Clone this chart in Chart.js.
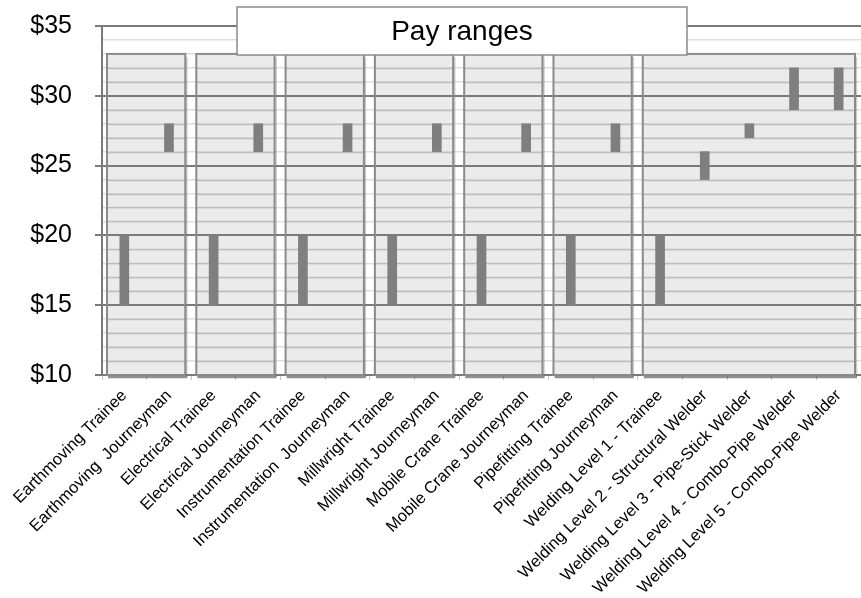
<!DOCTYPE html>
<html>
<head>
<meta charset="utf-8">
<title>Pay ranges</title>
<script src="https://cdn.jsdelivr.net/npm/chart.js@4.4.1/dist/chart.umd.min.js"></script>
<style>
  html, body { margin: 0; padding: 0; background: #fff; }
  #wrap { width: 861px; height: 598px; }
</style>
</head>
<body>
<div id="wrap"><canvas id="payCanvas" width="861" height="598"></canvas></div>
<script>
var categories = [
    'Earthmoving Trainee', 'Earthmoving  Journeyman',
    'Electrical Trainee', 'Electrical Journeyman',
    'Instrumentation Trainee', 'Instrumentation  Journeyman',
    'Millwright Trainee', 'Millwright Journeyman',
    'Mobile Crane Trainee', 'Mobile Crane Journeyman',
    'Pipefitting Trainee', 'Pipefitting Journeyman',
    'Welding Level 1 - Trainee', 'Welding Level 2 - Structural Welder',
    'Welding Level 3 - Pipe-Stick Welder', 'Welding Level 4 - Combo-Pipe Welder',
    'Welding Level 5 - Combo-Pipe Welder'
];
var payLow  = [15, 26, 15, 26, 15, 26, 15, 26, 15, 26, 15, 26, 15, 24, 27, 29, 29];
var payHigh = [20, 28, 20, 28, 20, 28, 20, 28, 20, 28, 20, 28, 20, 26, 28, 32, 32];
var yMin = 10;
var yMax = 35;
var yLabelStep = 5;
// shaded panels: first and last category index of each group
var panelGroups = [[0, 1], [2, 3], [4, 5], [6, 7], [8, 9], [10, 11], [12, 16]];
var panelTop = 33;
var chartTitle = 'Pay ranges';

var fontFamily = '"Liberation Sans", Arial, Helvetica, sans-serif';

function panelBox(chart, g) {
    var x = chart.scales.x, y = chart.scales.y;
    var half = (x.getPixelForValue(1) - x.getPixelForValue(0)) / 2;
    return {
        l: x.getPixelForValue(g[0]) - half + 5,
        r: x.getPixelForValue(g[1]) + half - 6,
        t: y.getPixelForValue(panelTop),
        b: y.getPixelForValue(yMin)
    };
}

var panelPlugin = {
    id: 'panels',
    beforeDraw: function (chart) {
        var ctx = chart.ctx;
        ctx.save();
        ctx.fillStyle = '#ebebeb';
        panelGroups.forEach(function (g) {
            var p = panelBox(chart, g);
            ctx.fillRect(p.l, p.t, p.r - p.l, p.b - p.t);
        });
        ctx.restore();
    },
    beforeDatasetsDraw: function (chart) {
        var ctx = chart.ctx, y = chart.scales.y;
        ctx.save();
        panelGroups.forEach(function (g) {
            var p = panelBox(chart, g);
            // darker minor lines inside the panel
            ctx.strokeStyle = '#bdbdbd';
            ctx.lineWidth = 1.5;
            y.ticks.forEach(function (t) {
                if (t.value % yLabelStep === 0 || t.value >= panelTop) return;
                var py = Math.round(y.getPixelForValue(t.value)) + 0.5;
                ctx.beginPath();
                ctx.moveTo(p.l, py);
                ctx.lineTo(p.r, py);
                ctx.stroke();
            });
            // shadow along the bottom
            ctx.strokeStyle = 'rgba(70,70,70,0.6)';
            ctx.lineWidth = 2.5;
            ctx.beginPath();
            ctx.moveTo(p.l + 1, p.b + 2);
            ctx.lineTo(p.r + 2, p.b + 2);
            ctx.stroke();
            ctx.strokeStyle = 'rgba(110,110,110,0.35)';
            ctx.lineWidth = 1.5;
            ctx.beginPath();
            ctx.moveTo(p.r + 1.5, p.b + 2);
            ctx.lineTo(p.r + 1.5, p.t + 3);
            ctx.stroke();
            // border
            ctx.strokeStyle = '#8a8a8a';
            ctx.lineWidth = 2;
            ctx.strokeRect(p.l, p.t, p.r - p.l, p.b - p.t);
        });
        ctx.restore();
    }
};

var titlePlugin = {
    id: 'titleBox',
    afterDraw: function (chart) {
        var ctx = chart.ctx;
        ctx.save();
        ctx.fillStyle = '#fff';
        ctx.strokeStyle = '#8a8a8a';
        ctx.lineWidth = 1.5;
        ctx.fillRect(237, 7, 450, 48);
        ctx.strokeRect(237, 7, 450, 48);
        ctx.fillStyle = '#000';
        ctx.font = '28px ' + fontFamily;
        ctx.textAlign = 'center';
        ctx.textBaseline = 'middle';
        ctx.fillText(chartTitle, 462, 32);
        ctx.restore();
    }
};

var ctx = document.getElementById('payCanvas').getContext('2d');
new Chart(ctx, {
    type: 'bar',
    data: {
        labels: categories,
        datasets: [{
            label: 'Pay range',
            data: categories.map(function (c, i) { return [payLow[i], payHigh[i]]; }),
            backgroundColor: '#7f7f7f',
            borderWidth: 0,
            barThickness: 9
        }]
    },
    options: {
        responsive: false,
        animation: false,
        devicePixelRatio: 1,
        layout: { padding: { top: 26, right: 0, bottom: 0, left: 0 } },
        plugins: {
            legend: { display: false },
            tooltip: { enabled: false },
            title: { display: false }
        },
        scales: {
            x: {
                offset: true,
                grid: { offset: true, drawOnChartArea: false, tickLength: 5, color: '#c4c4c4', lineWidth: 1 },
                border: { display: false },
                ticks: {
                    autoSkip: false,
                    maxRotation: 45,
                    minRotation: 45,
                    padding: 6,
                    color: '#000',
                    font: { family: fontFamily, size: 16.5 }
                },
                afterFit: function (s) { s.height = 598 - 375; }
            },
            y: {
                min: yMin,
                max: yMax,
                afterBuildTicks: function (s) {
                    var t = [];
                    for (var v = yMin; v <= yMax; v++) t.push({ value: v });
                    s.ticks = t;
                },
                ticks: {
                    autoSkip: false,
                    padding: 23,
                    color: '#000',
                    font: { family: fontFamily, size: 25 },
                    callback: function (v) { return v % yLabelStep === 0 ? '$' + v : ''; }
                },
                grid: {
                    tickLength: 7,
                    color: function (c) { return c.tick && c.tick.value % yLabelStep === 0 ? '#7a7a7a' : '#dedede'; },
                    tickColor: function (c) { return c.tick && c.tick.value % yLabelStep === 0 ? '#7a7a7a' : 'rgba(0,0,0,0)'; },
                    lineWidth: function (c) { return c.tick && c.tick.value % yLabelStep === 0 ? 2 : 1.5; }
                },
                border: { color: '#7a7a7a', width: 2 },
                afterFit: function (s) {
                    s.width = 102;
                    s.paddingTop = 0;
                    s.paddingBottom = 0;
                }
            }
        }
    },
    plugins: [panelPlugin, titlePlugin]
});
</script>
</body>
</html>
